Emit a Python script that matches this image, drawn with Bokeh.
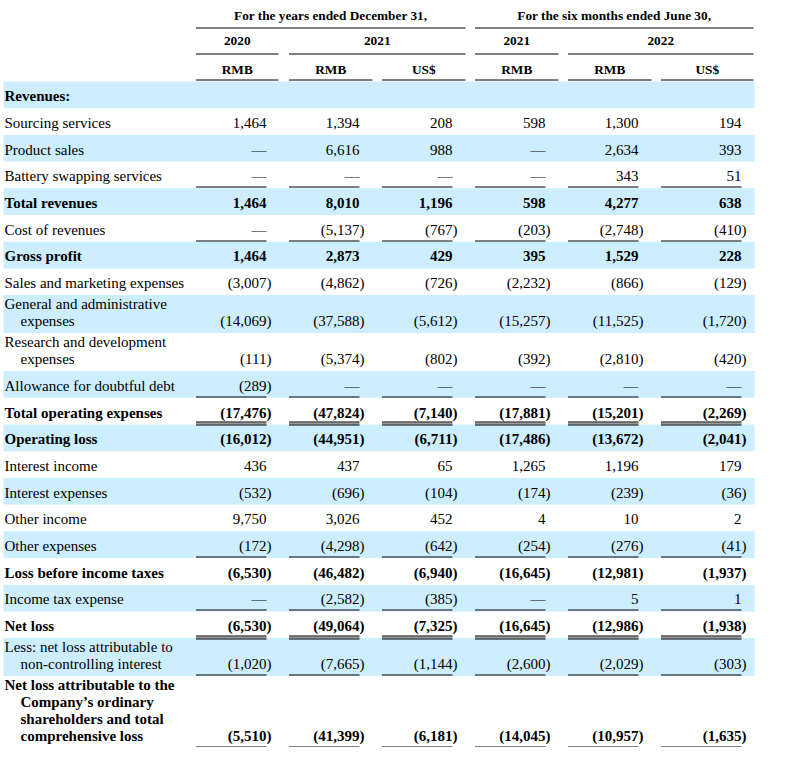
import math
from bokeh.plotting import figure
from bokeh.models import Range1d, ColumnDataSource
from bokeh.core.properties import value
from bokeh.embed import file_html
from bokeh.resources import INLINE

# ---------------- data ----------------
period_groups = ["For the years ended December 31,", "For the six months ended June 30,"]
period_spans = [(0, 2), (3, 5)]
year_labels = ["2020", "2021", "2021", "2022"]
year_spans = [(0, 0), (1, 2), (3, 3), (4, 5)]
currency_labels = ["RMB", "RMB", "US$", "RMB", "RMB", "US$"]

row_labels = [
    ["Revenues:"],
    ["Sourcing services"],
    ["Product sales"],
    ["Battery swapping services"],
    ["Total revenues"],
    ["Cost of revenues"],
    ["Gross profit"],
    ["Sales and marketing expenses"],
    ["General and administrative", "expenses"],
    ["Research and development", "expenses"],
    ["Allowance for doubtful debt"],
    ["Total operating expenses"],
    ["Operating loss"],
    ["Interest income"],
    ["Interest expenses"],
    ["Other income"],
    ["Other expenses"],
    ["Loss before income taxes"],
    ["Income tax expense"],
    ["Net loss"],
    ["Less: net loss attributable to", "non-controlling interest"],
    ["Net loss attributable to the", "Company\u2019s ordinary", "shareholders and total", "comprehensive loss"],
]
row_kind = ["heading", "item", "item", "item", "total", "item", "total", "item", "item", "item",
            "item", "total", "total", "item", "item", "item", "item", "total", "item", "total",
            "item", "total"]
rule_below = ["", "", "", "single", "", "single", "", "", "", "",
              "single", "double", "", "", "", "", "single", "", "single", "double",
              "single", "single"]

# None = dash (nil)
fy2020_rmb = [None, 1464, None, None, 1464, None, 1464, -3007, -14069, -111, -289, -17476, -16012,
              436, -532, 9750, -172, -6530, None, -6530, -1020, -5510]
fy2021_rmb = [None, 1394, 6616, None, 8010, -5137, 2873, -4862, -37588, -5374, None, -47824, -44951,
              437, -696, 3026, -4298, -46482, -2582, -49064, -7665, -41399]
fy2021_usd = [None, 208, 988, None, 1196, -767, 429, -726, -5612, -802, None, -7140, -6711,
              65, -104, 452, -642, -6940, -385, -7325, -1144, -6181]
h2021_rmb = [None, 598, None, None, 598, -203, 395, -2232, -15257, -392, None, -17881, -17486,
             1265, -174, 4, -254, -16645, None, -16645, -2600, -14045]
h2022_rmb = [None, 1300, 2634, 343, 4277, -2748, 1529, -866, -11525, -2810, None, -15201, -13672,
             1196, -239, 10, -276, -12981, 5, -12986, -2029, -10957]
h2022_usd = [None, 194, 393, 51, 638, -410, 228, -129, -1720, -420, None, -2269, -2041,
             179, -36, 2, -41, -1937, 1, -1938, -303, -1635]
columns = [fy2020_rmb, fy2021_rmb, fy2021_usd, h2021_rmb, h2022_rmb, h2022_usd]

# ---------------- layout / style ----------------
FONT = "Liberation Serif"
BAND = "#CCEEFF"
BODY_SIZE = "15px"
HEAD_SIZE = "13.3px"
TEXT_DY = -4.5  # baseline correction for the renderer

cell_left = [195.5, 288.5, 381.5, 474.5, 567.5, 660.5]
num_right = [266, 359, 452, 545, 638, 741]
head_right = [278, 372, 465, 558, 651, 753]

p = figure(width=773, height=747, x_range=Range1d(0, 773), y_range=Range1d(749, 2),
           x_axis_type=None, y_axis_type=None, toolbar_location=None,
           output_backend="svg", min_border=0)
p.outline_line_color = None
p.background_fill_color = "white"
p.border_fill_color = "white"

texts = {}  # key: (align, weight, size) -> dict of lists


def add_text(x, y, t, align="left", bold=False, size=BODY_SIZE):
    key = (align, bold, size)
    d = texts.setdefault(key, {"x": [], "y": [], "t": []})
    d["x"].append(x)
    d["y"].append(y + TEXT_DY)
    d["t"].append(t)


seg = {"x0": [], "y0": [], "x1": [], "y1": []}
gray_seg = {"x0": [], "y0": [], "x1": [], "y1": []}


def add_seg(x0, x1, y, store=seg):
    store["x0"].append(x0)
    store["x1"].append(x1)
    store["y0"].append(y)
    store["y1"].append(y)


# header
for label, (a, b) in zip(period_groups, period_spans):
    add_text((cell_left[a] + head_right[b]) / 2, 21, label, "center", True, HEAD_SIZE)
    add_seg(cell_left[a], head_right[b], 29.5)
for label, (a, b) in zip(year_labels, year_spans):
    add_text((cell_left[a] + head_right[b]) / 2, 47.3, label, "center", True, HEAD_SIZE)
    add_seg(cell_left[a], head_right[b], 55.5)
for c, label in enumerate(currency_labels):
    add_text((cell_left[c] + head_right[c]) / 2, 75, label, "center", True, HEAD_SIZE)
    add_seg(cell_left[c], head_right[c], 81.5)

# body
band = {"left": [], "right": [], "top": [], "bottom": []}
top = 83.0
for i, lines in enumerate(row_labels):
    n = len(lines)
    h = 26.7 if n == 1 else 4.2 + 16.9 * n
    bottom = top + h
    if i % 2 == 0:
        band["left"].append(3)
        band["right"].append(754)
        band["top"].append(top)
        band["bottom"].append(bottom)
    bold = row_kind[i] in ("heading", "total")
    if n == 1:
        baselines = [top + 19.2]
    else:
        baselines = [top + 13.5 + 16.9 * k for k in range(n)]
    for k, line in enumerate(lines):
        add_text(4 if k == 0 else 20, baselines[k], line, "left", bold)
    vy = baselines[-1]
    if row_kind[i] != "heading":
        for c, col in enumerate(columns):
            v = col[i]
            if v is None:
                add_text(num_right[c], vy, "\u2014", "right", bold)
            elif v < 0:
                add_text(num_right[c], vy, "({:,}".format(-v), "right", bold)
                add_text(num_right[c], vy, ")", "left", bold)
            else:
                add_text(num_right[c], vy, "{:,}".format(v), "right", bold)
    if rule_below[i] == "single":
        y = math.floor(bottom - 1) + 0.5
        for c in range(6):
            add_seg(cell_left[c], num_right[c], y)
    elif rule_below[i] == "double":
        y2 = round(bottom) + 0.5
        y1 = y2 - 3
        for c in range(6):
            add_seg(cell_left[c], num_right[c], y1)
            add_seg(cell_left[c], num_right[c], y2)
            add_seg(cell_left[c], num_right[c], y1 + 1.5, gray_seg)
    top = bottom

p.quad(source=ColumnDataSource(band), left="left", right="right", top="top", bottom="bottom",
       fill_color=BAND, line_color=None)
p.segment(source=ColumnDataSource(gray_seg), x0="x0", y0="y0", x1="x1", y1="y1",
          line_color="#9a9a9a", line_width=2)
p.segment(source=ColumnDataSource(seg), x0="x0", y0="y0", x1="x1", y1="y1",
          line_color="black", line_width=1)

for (align, bold, size), d in texts.items():
    p.text(source=ColumnDataSource(d), x="x", y="y", text="t",
           text_font=value(FONT), text_font_size=size,
           text_font_style="bold" if bold else "normal",
           text_align=align, text_baseline="alphabetic", text_color="black")

open("out.html", "w").write(file_html(p, INLINE))
